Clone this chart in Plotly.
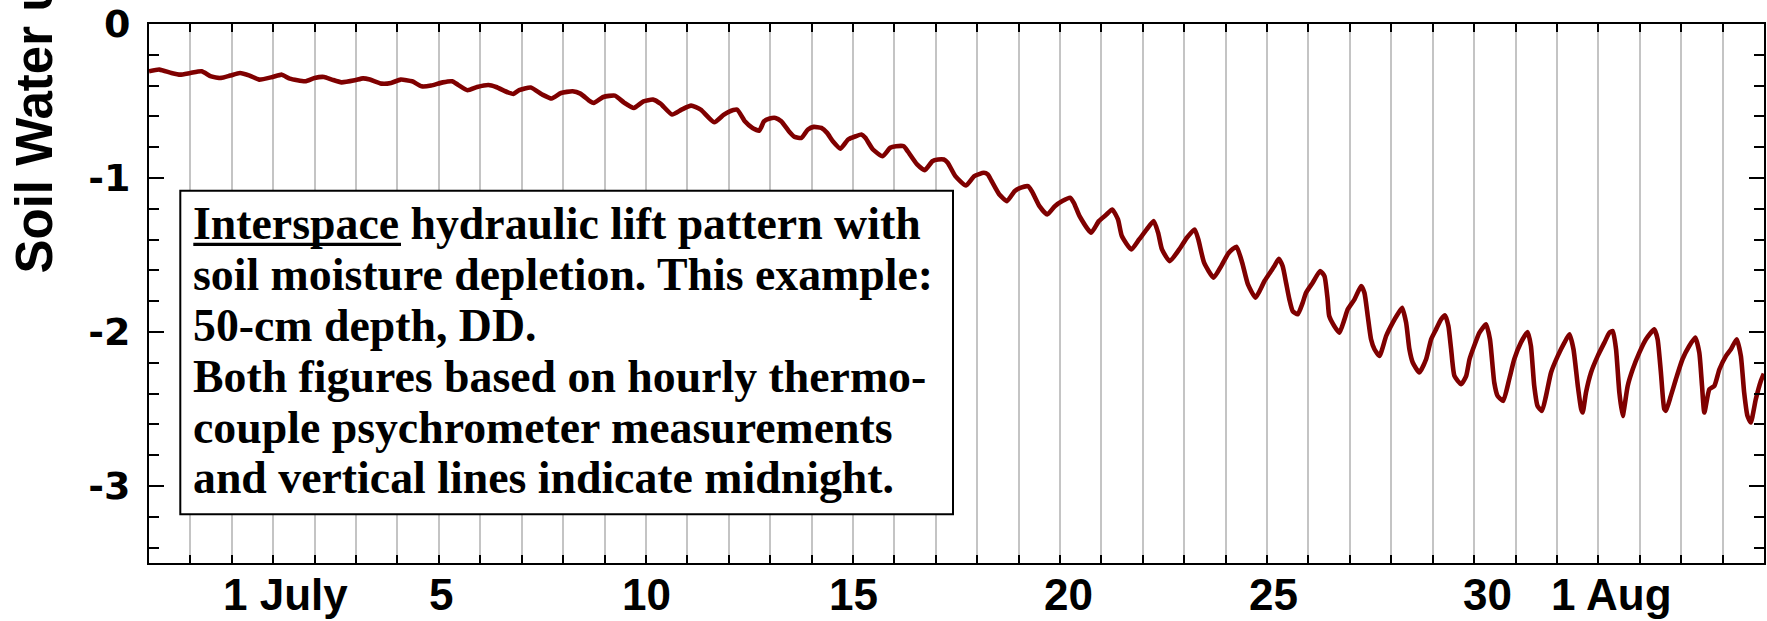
import plotly.graph_objects as go

# ---------------- data ----------------
YEAR = "2003"
times = [
    "06-28 00:00", "06-28 06:00", "06-28 13:00", "06-28 18:00", "06-29 00:00", "06-29 06:30",
    "06-29 12:00", "06-29 17:45", "06-29 23:00", "06-30 04:45", "06-30 10:20", "06-30 15:50",
    "06-30 23:35", "07-01 05:00", "07-01 09:35", "07-01 18:30", "07-02 00:00", "07-02 05:30",
    "07-02 10:00", "07-02 15:30", "07-02 23:15", "07-03 04:00", "07-03 08:00", "07-03 14:40",
    "07-03 20:15", "07-04 01:50", "07-04 08:30", "07-04 14:00", "07-04 19:30", "07-05 02:10",
    "07-05 07:40", "07-05 11:00", "07-05 16:35", "07-05 22:10", "07-06 04:45", "07-06 09:10",
    "07-06 15:50", "07-06 19:10", "07-06 22:30", "07-07 05:15", "07-07 11:50", "07-07 17:20",
    "07-07 22:50", "07-08 05:30", "07-08 10:00", "07-08 15:35", "07-08 17:45", "07-08 23:20",
    "07-09 06:00", "07-09 11:30", "07-09 17:00", "07-09 22:35", "07-10 04:05", "07-10 08:25",
    "07-10 15:10", "07-10 20:40", "07-11 02:10", "07-11 07:45", "07-11 15:35", "07-11 21:00",
    "07-12 00:00", "07-12 04:50", "07-12 09:20", "07-12 13:45", "07-12 17:45", "07-12 20:25",
    "07-12 23:45", "07-13 03:05", "07-13 06:25", "07-13 10:50", "07-13 14:10", "07-13 18:10",
    "07-13 21:55", "07-14 01:15", "07-14 05:40", "07-14 09:00", "07-14 12:20", "07-14 16:45",
    "07-14 21:10", "07-15 01:35", "07-15 04:55", "07-15 07:10", "07-15 11:35", "07-15 17:10",
    "07-15 21:35", "07-16 01:00", "07-16 05:25", "07-16 07:40", "07-16 13:10", "07-16 17:35",
    "07-16 22:00", "07-17 01:20", "07-17 04:40", "07-17 06:55", "07-17 11:20", "07-17 17:30",
    "07-17 22:20", "07-18 03:50", "07-18 06:10", "07-18 08:25", "07-18 12:50", "07-18 17:15",
    "07-18 21:40", "07-19 01:00", "07-19 05:25", "07-19 07:40", "07-19 12:05", "07-19 16:35",
    "07-19 21:00", "07-20 01:20", "07-20 05:45", "07-20 08:00", "07-20 11:20", "07-20 18:00",
    "07-20 22:30", "07-21 02:55", "07-21 06:15", "07-21 09:35", "07-21 11:50", "07-21 17:20",
    "07-21 21:50", "07-22 02:15", "07-22 06:15", "07-22 08:50", "07-22 11:05", "07-22 15:35",
    "07-22 21:05", "07-23 01:30", "07-23 06:00", "07-23 08:10", "07-23 11:30", "07-23 17:00",
    "07-23 21:25", "07-24 01:50", "07-24 06:15", "07-24 09:35", "07-24 12:55", "07-24 17:20",
    "07-24 22:30", "07-25 02:20", "07-25 04:15", "07-25 06:45", "07-25 09:00", "07-25 11:00",
    "07-25 12:55", "07-25 14:50", "07-25 17:45", "07-25 20:40", "07-25 22:35", "07-26 02:25",
    "07-26 06:45", "07-26 09:15", "07-26 11:05", "07-26 12:00", "07-26 14:55", "07-26 17:55",
    "07-26 20:50", "07-26 22:45", "07-27 02:40", "07-27 06:30", "07-27 08:25", "07-27 10:20",
    "07-27 12:15", "07-27 14:15", "07-27 17:10", "07-27 21:00", "07-28 00:50", "07-28 03:40",
    "07-28 06:15", "07-28 08:35", "07-28 10:30", "07-28 12:25", "07-28 16:15", "07-28 20:10",
    "07-28 23:05", "07-29 01:55", "07-29 04:50", "07-29 07:10", "07-29 09:05", "07-29 10:40",
    "07-29 12:35", "07-29 16:30", "07-29 19:25", "07-29 21:20", "07-30 00:00", "07-30 03:05",
    "07-30 06:55", "07-30 09:10", "07-30 11:40", "07-30 13:35", "07-30 16:50", "07-30 20:20",
    "07-30 23:15", "07-31 03:05", "07-31 07:00", "07-31 08:55", "07-31 10:50", "07-31 12:45",
    "07-31 15:20", "07-31 17:40", "07-31 20:35", "08-01 00:30", "08-01 04:20", "08-01 07:15",
    "08-01 09:35", "08-01 12:05", "08-01 14:00", "08-01 14:55", "08-01 16:50", "08-01 19:45",
    "08-01 23:40", "08-02 03:30", "08-02 06:25", "08-02 08:20", "08-02 10:15", "08-02 12:10",
    "08-02 14:05", "08-02 17:00", "08-02 19:55", "08-02 23:45", "08-03 03:35", "08-03 08:25",
    "08-03 10:20", "08-03 12:15", "08-03 14:10", "08-03 15:10", "08-03 18:00", "08-03 20:55",
    "08-04 00:45", "08-04 04:40", "08-04 08:10", "08-04 10:30", "08-04 12:05", "08-04 13:25",
    "08-04 16:20", "08-04 19:15", "08-04 22:10", "08-05 02:00", "08-05 04:50", "08-05 08:10",
    "08-05 10:35", "08-05 12:30", "08-05 14:25", "08-05 16:20", "08-05 19:15", "08-05 22:10",
    "08-05 23:55",
]
soil_water_mpa = [
    -0.307, -0.296, -0.318, -0.329, -0.318, -0.307,
    -0.340, -0.350, -0.335, -0.318, -0.335, -0.361,
    -0.344, -0.329, -0.355, -0.372, -0.350, -0.344,
    -0.361, -0.379, -0.366, -0.353, -0.361, -0.387,
    -0.383, -0.361, -0.372, -0.405, -0.400, -0.379,
    -0.372, -0.394, -0.430, -0.409, -0.396, -0.409,
    -0.443, -0.454, -0.430, -0.413, -0.458, -0.484,
    -0.448, -0.437, -0.452, -0.502, -0.512, -0.474,
    -0.465, -0.512, -0.545, -0.502, -0.491, -0.517,
    -0.588, -0.556, -0.530, -0.556, -0.638, -0.590,
    -0.570, -0.556, -0.632, -0.675, -0.692, -0.632,
    -0.614, -0.610, -0.632, -0.696, -0.733, -0.739,
    -0.685, -0.668, -0.675, -0.707, -0.761, -0.809,
    -0.750, -0.729, -0.718, -0.739, -0.815, -0.859,
    -0.804, -0.794, -0.794, -0.826, -0.912, -0.949,
    -0.891, -0.880, -0.880, -0.901, -0.988, -1.049,
    -0.988, -0.966, -0.977, -1.021, -1.107, -1.150,
    -1.086, -1.064, -1.053, -1.086, -1.183, -1.237,
    -1.183, -1.150, -1.128, -1.161, -1.248, -1.355,
    -1.280, -1.237, -1.204, -1.269, -1.377, -1.464,
    -1.399, -1.334, -1.280, -1.355, -1.464, -1.540,
    -1.464, -1.388, -1.334, -1.399, -1.550, -1.647,
    -1.572, -1.485, -1.446, -1.550, -1.691, -1.777,
    -1.669, -1.604, -1.572, -1.524, -1.572, -1.680,
    -1.788, -1.864, -1.885, -1.809, -1.745, -1.680,
    -1.604, -1.637, -1.788, -1.896, -1.961, -2.004,
    -1.918, -1.853, -1.788, -1.702, -1.745, -1.896,
    -2.047, -2.112, -2.155, -2.026, -1.939, -1.885,
    -1.842, -1.939, -2.112, -2.198, -2.263, -2.177,
    -2.047, -1.983, -1.918, -1.892, -1.961, -2.112,
    -2.285, -2.339, -2.285, -2.177, -2.091, -2.004,
    -1.950, -2.047, -2.328, -2.415, -2.447, -2.307,
    -2.177, -2.069, -2.000, -2.091, -2.350, -2.480,
    -2.512, -2.415, -2.263, -2.155, -2.069, -2.015,
    -2.112, -2.350, -2.499, -2.523, -2.393, -2.263,
    -2.155, -2.069, -2.004, -1.994, -2.112, -2.393,
    -2.545, -2.350, -2.242, -2.134, -2.047, -1.983,
    -2.047, -2.263, -2.499, -2.512, -2.415, -2.307,
    -2.177, -2.091, -2.036, -2.134, -2.350, -2.523,
    -2.372, -2.350, -2.242, -2.155, -2.112, -2.047,
    -2.155, -2.393, -2.545, -2.588, -2.437, -2.318,
    -2.270,
]
x_range = ["06-28 00:00", "08-06 00:00"]
y_tick_values = [0, -1, -2, -3]
y_tick_labels = ["0", "-1", "-2", "-3"]
x_label_days = ["07-01", "07-05", "07-10", "07-15", "07-20", "07-25", "07-30", "08-01"]
x_label_texts = ["1 July", "5", "10", "15", "20", "25", "30", "1 Aug"]
y_title = "Soil Water \u03c8 (MPa)"
box_lines = [
    "Interspace hydraulic lift pattern with",
    "soil moisture depletion. This example:",
    "50-cm depth, DD.",
    "Both figures based on hourly thermo-",
    "couple psychrometer measurements",
    "and vertical lines indicate midnight.",
]

# ---------------- layout helpers (pixel geometry) ----------------
W, H = 1767, 621
ML, MR, MT, MB = 149, 3, 24, 58
PW, PH = W - ML - MR, H - MT - MB


def px_x(px):
    return (px - ML) / PW


def px_y(py):
    return (H - MB - py) / PH


x_label_shift = [12, 2, 1, 1, 8, 6, 13, 55]
box_baselines = [239.3, 290.1, 340.9, 391.7, 442.5, 493.3]
BOX_FONT = 45.8

full_times = [f"{YEAR}-{t}" for t in times]

fig = go.Figure()
fig.add_trace(go.Scatter(
    x=full_times, y=soil_water_mpa, mode="lines",
    line=dict(color="#7f0000", width=4.6, shape="spline", smoothing=0.5),
    showlegend=False, hoverinfo="skip",
))

axis_common = dict(
    showline=True, linecolor="black", linewidth=2, mirror="ticks",
    ticks="inside", tickcolor="black", tickwidth=2,
    zeroline=False, automargin=False,
)

fig.update_layout(
    width=W, height=H,
    margin=dict(l=ML, r=MR, t=MT, b=MB, pad=0),
    paper_bgcolor="white", plot_bgcolor="white",
    showlegend=False,
    xaxis=dict(
        type="date",
        range=[f"{YEAR}-{x_range[0]}", f"{YEAR}-{x_range[1]}"],
        tick0=f"{YEAR}-06-28", dtick=86400000,
        ticklen=8, showticklabels=False,
        showgrid=True, gridcolor="#c4c4c4", gridwidth=1.6,
        **axis_common,
    ),
    yaxis=dict(
        range=[-3.5, 0],
        tickvals=y_tick_values, ticktext=y_tick_labels,
        ticklen=15,
        tickfont=dict(family="DejaVu Sans, Liberation Sans, sans-serif", size=38,
                      color="black", weight="bold"),
        ticklabelstandoff=9,
        showgrid=False,
        minor=dict(dtick=0.2, tick0=0, ticks="inside", ticklen=10,
                   tickwidth=2, tickcolor="black", showgrid=False),
        **axis_common,
    ),
)

annotations = []
# x-axis day labels
for day, txt, sh in zip(x_label_days, x_label_texts, x_label_shift):
    annotations.append(dict(
        x=f"{YEAR}-{day}", xref="x", y=0, yref="paper",
        xanchor="center", yanchor="top", xshift=sh, yshift=-5,
        text=txt, showarrow=False,
        font=dict(family="Liberation Sans, Arial, sans-serif", size=44,
                  color="black", weight="bold"),
    ))

# y-axis title (runs off the top edge, as in the reference)
annotations.append(dict(
    x=px_x(34), xref="paper", y=px_y(276), yref="paper",
    xanchor="center", yanchor="bottom", textangle=-90,
    text=y_title, showarrow=False,
    font=dict(family="Liberation Sans, Arial, sans-serif", size=51,
              color="black", weight="bold"),
))

# text box lines
for line, base in zip(box_lines, box_baselines):
    annotations.append(dict(
        x=px_x(191.3), xref="paper", y=px_y(base - 0.3375 * BOX_FONT), yref="paper",
        xanchor="left", yanchor="middle",
        text=line, showarrow=False,
        font=dict(family="Liberation Serif, Times New Roman, serif", size=BOX_FONT,
                  color="black", weight="bold"),
    ))
fig.update_layout(annotations=annotations)

shapes = [
    dict(type="rect", xref="paper", yref="paper",
         x0=px_x(180.3), x1=px_x(953), y0=px_y(514.3), y1=px_y(190.7),
         line=dict(color="black", width=2), fillcolor="white", layer="above"),
    dict(type="line", xref="paper", yref="paper",
         x0=px_x(193.3), x1=px_x(401), y0=px_y(244.4), y1=px_y(244.4),
         line=dict(color="black", width=3.3), layer="above"),
]
fig.update_layout(shapes=shapes)

fig.write_html("out.html")
